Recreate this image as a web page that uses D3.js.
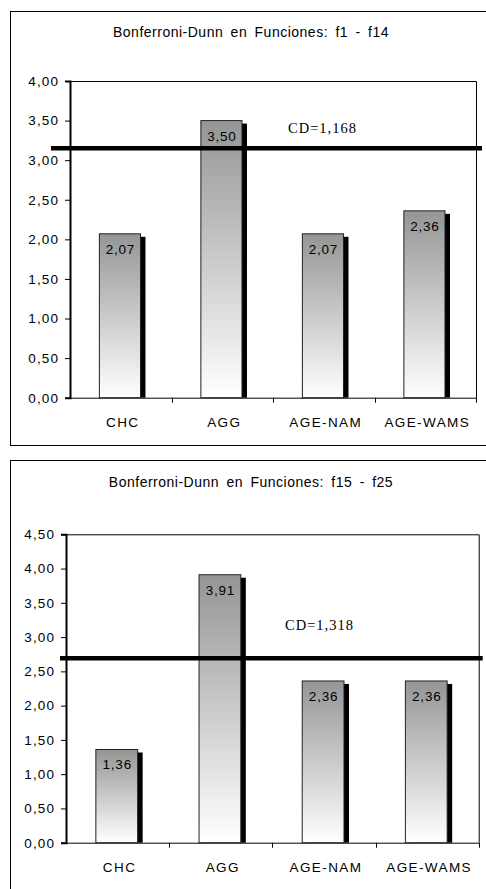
<!DOCTYPE html>
<html>
<head>
<meta charset="utf-8">
<script src="https://cdn.jsdelivr.net/npm/d3@7"></script>
<style>
  html, body { margin: 0; padding: 0; background: #fff; }
  svg { display: block; }
</style>
</head>
<body>
<script>
// ---------- DATA ----------
const categories = ["CHC", "AGG", "AGE-NAM", "AGE-WAMS"];
const valuesF1F14 = [2.07, 3.50, 2.07, 2.36];
const valuesF15F25 = [1.36, 3.91, 2.36, 2.36];
const ticksF1F14 = [0, 0.5, 1, 1.5, 2, 2.5, 3, 3.5, 4];
const ticksF15F25 = [0, 0.5, 1, 1.5, 2, 2.5, 3, 3.5, 4, 4.5];
const titles = ["Bonferroni-Dunn en Funciones: f1 - f14", "Bonferroni-Dunn en Funciones: f15 - f25"];
const cdLabels = ["CD=1,168", "CD=1,318"];
const cdLineValues = [3.15, 2.69];     // drawn CD threshold lines
const cdLabelValues = [3.34, 3.10];    // vertical anchor of the CD text (in data units)

// ---------- SETUP ----------
const W = 486, H = 889;
const svg = d3.select("body").append("svg").attr("width", W).attr("height", H);
const locale = d3.formatLocale({ decimal: ",", thousands: ".", grouping: [3], currency: ["", ""] });
const fmt = locale.format(".2f");

const defs = svg.append("defs");
const grad = defs.append("linearGradient").attr("id", "barGrad")
  .attr("x1", 0).attr("y1", 0).attr("x2", 0).attr("y2", 1);
grad.append("stop").attr("offset", "0%").attr("stop-color", "#959595");
grad.append("stop").attr("offset", "100%").attr("stop-color", "#ffffff");

const SANS = "'Liberation Sans', Arial, sans-serif";
const SERIF = "'Liberation Serif', 'Times New Roman', serif";

function drawPanel(p) {
  const g = svg.append("g");
  // outer frame
  g.append("rect")
    .attr("x", p.frame.x + 0.5).attr("y", p.frame.y + 0.5)
    .attr("width", p.frame.w).attr("height", p.frame.h)
    .attr("fill", "#fff").attr("stroke", "#000").attr("stroke-width", 1);

  // title
  g.append("text")
    .attr("x", p.titleX).attr("y", p.titleY)
    .attr("text-anchor", "middle")
    .attr("font-family", SANS).attr("font-size", 14)
    .attr("letter-spacing", 0.5).attr("word-spacing", 3)
    .attr("fill", "#000")
    .text(p.title);

  const x = d3.scaleBand().domain(categories).range([p.plot.x0, p.plot.x1]);
  const y = d3.scaleLinear().domain([0, d3.max(p.ticks)]).range([p.plot.y1, p.plot.y0]);

  // plot area border (top & right)
  g.append("path")
    .attr("d", `M${p.plot.x0},${p.plot.y0 + 0.5}H${p.plot.x1 + 0.5}V${p.plot.y1}`)
    .attr("fill", "none").attr("stroke", "#000").attr("stroke-width", 1);

  // y axis
  const yAxis = g.append("g")
    .attr("transform", `translate(${p.plot.x0},0)`)
    .call(d3.axisLeft(y).tickValues(p.ticks).tickFormat(fmt).tickSize(5).tickPadding(6));
  yAxis.select(".domain").attr("stroke", "#000").attr("stroke-width", 2);
  yAxis.selectAll(".tick line").attr("stroke", "#000");
  yAxis.selectAll(".tick text")
    .attr("font-family", SANS).attr("font-size", 13.5)
    .attr("letter-spacing", 1.1).attr("fill", "#000");

  // x axis
  const xAxis = g.append("g")
    .attr("transform", `translate(0,${p.plot.y1})`)
    .call(d3.axisBottom(x).tickSize(0).tickPadding(20));
  xAxis.select(".domain").attr("stroke", "#000").attr("stroke-width", 1);
  xAxis.selectAll(".tick text")
    .attr("font-family", SANS).attr("font-size", 13.5)
    .attr("letter-spacing", 1.4).attr("fill", "#000")
    .attr("dx", 2);
  // ticks at category boundaries
  const bounds = categories.map(c => x(c)).slice(1).concat([p.plot.x1]);
  xAxis.selectAll(".bnd").data(bounds).enter().append("line")
    .attr("class", "bnd")
    .attr("x1", d => Math.round(d) + 0.5).attr("x2", d => Math.round(d) + 0.5)
    .attr("y1", 0).attr("y2", 5)
    .attr("stroke", "#000");

  // bars
  const bw = x.bandwidth() * 0.405;
  const data = categories.map((c, i) => ({ c, v: p.values[i] }));
  const bx = d => x(d.c) + x.bandwidth() / 2 - bw * 0.52;

  g.selectAll(".shadow").data(data).enter().append("rect")
    .attr("class", "shadow")
    .attr("x", d => bx(d) + 5)
    .attr("y", d => y(d.v) + 3)
    .attr("width", bw)
    .attr("height", d => y(0) - y(d.v) - 3)
    .attr("fill", "#000");

  g.selectAll(".bar").data(data).enter().append("rect")
    .attr("class", "bar")
    .attr("x", d => bx(d))
    .attr("y", d => y(d.v))
    .attr("width", bw)
    .attr("height", d => y(0) - y(d.v))
    .attr("fill", "url(#barGrad)")
    .attr("stroke", "#222").attr("stroke-width", 1);

  g.selectAll(".vlabel").data(data).enter().append("text")
    .attr("class", "vlabel")
    .attr("x", d => bx(d) + bw / 2 + 0.5)
    .attr("y", d => y(d.v) + 20)
    .attr("text-anchor", "middle")
    .attr("font-family", SANS).attr("font-size", 13.5)
    .attr("letter-spacing", 0.8)
    .attr("fill", "#000")
    .text(d => fmt(d.v));

  // CD line
  g.append("line")
    .attr("x1", p.plot.x0 - p.cdExtL).attr("x2", p.plot.x1 + p.cdExtR)
    .attr("y1", y(p.cdValue)).attr("y2", y(p.cdValue))
    .attr("stroke", "#000").attr("stroke-width", 4.5);

  g.append("text")
    .attr("x", p.cdTextX).attr("y", y(p.cdLabelValue))
    .attr("font-family", SERIF).attr("font-size", 14.5)
    .attr("letter-spacing", 1)
    .attr("fill", "#000")
    .text(p.cdText);
}

drawPanel({
  frame: { x: 10, y: 11, w: 480, h: 434 },
  title: titles[0], titleX: 251, titleY: 37,
  plot: { x0: 70, x1: 476, y0: 81, y1: 397.7 },
  values: valuesF1F14, ticks: ticksF1F14,
  cdValue: cdLineValues[0], cdExtL: 19, cdExtR: 6,
  cdText: cdLabels[0], cdLabelValue: cdLabelValues[0], cdTextX: 288
});

drawPanel({
  frame: { x: 10, y: 460, w: 480, h: 440 },
  title: titles[1], titleX: 251, titleY: 486.5,
  plot: { x0: 66, x1: 478.7, y0: 534.3, y1: 842.7 },
  values: valuesF15F25, ticks: ticksF15F25,
  cdValue: cdLineValues[1], cdExtL: 6, cdExtR: 4,
  cdText: cdLabels[1], cdLabelValue: cdLabelValues[1], cdTextX: 285
});
</script>
</body>
</html>
